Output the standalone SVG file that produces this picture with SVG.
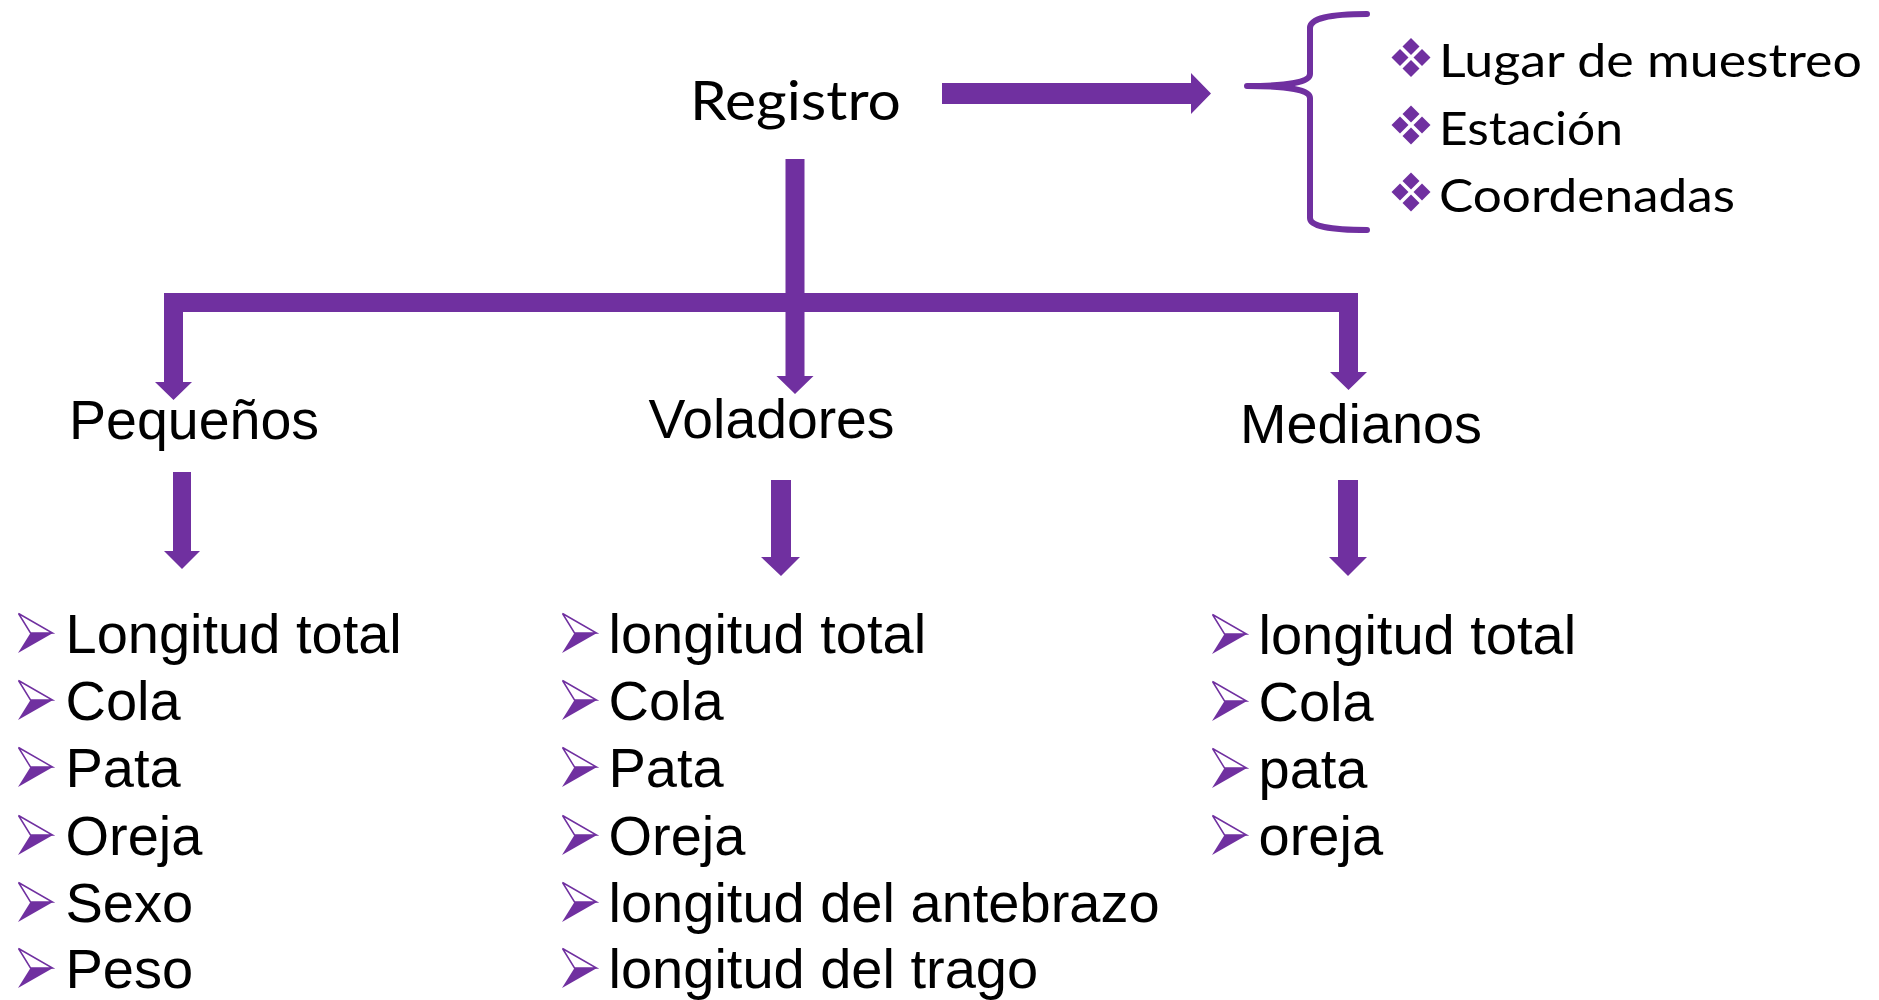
<svg xmlns="http://www.w3.org/2000/svg" xmlns:xlink="http://www.w3.org/1999/xlink" width="1879" height="1000" viewBox="0 0 1879 1000">
<style>
.cal{font-family:Lato,"Open Sans","DejaVu Sans",sans-serif;fill:#000}
.ari{font-family:"Liberation Sans",Arial,sans-serif;fill:#000}
.hd{font-size:56px}
.li{font-size:56px}
.conn{fill:#7030A0}
.brace{fill:none;stroke:#7030A0;stroke-width:6;stroke-linecap:round;stroke-linejoin:round}
</style>
<defs>
<g id="arrowBullet">
<polygon points="0.5,0.5 34.5,20 12.5,20" fill="#ffffff" stroke="#7030A0" stroke-width="1.5" stroke-linejoin="miter"/>
<polygon points="0,40 12.5,20 35,20" fill="#7030A0"/>
</g>
<g id="diaBullet" fill="#7030A0">
<polygon points="0,-19.5 8.5,-11 0,-2.5 -8.5,-11"/>
<polygon points="0,19.5 8.5,11 0,2.5 -8.5,11"/>
<polygon points="-19.5,0 -11,-8.5 -2.5,0 -11,8.5"/>
<polygon points="19.5,0 11,-8.5 2.5,0 11,8.5"/>
</g>
</defs>
<rect width="1879" height="1000" fill="#ffffff"/>

<g id="connectors" class="conn">
<path d="M942,83 H1191 V73 L1211,93.5 L1191,114 V104 H942 Z"/>
<path d="M785.5,159 H804.5 V376 H813.5 L795,394 L776.5,376 H785.5 Z"/>
<path d="M164,293 H1358 V372 H1367 L1348.5,390 L1330,372 H1339 V312 H183 V382 H192 L173.5,400 L155,382 H164 Z"/>
<path d="M173,472 H191 V551 H200 L182,569 L164,551 H173 Z"/>
<path d="M771,480 H791 V557 H800 L781,576 L761,557 H771 Z"/>
<path d="M1338,480 H1358 V557 H1367 L1348,576 L1329,557 H1338 Z"/>
<path class="brace" d="M1367,14 Q1310,14 1310,28 L1310,74 Q1310,86 1247,86 Q1310,86 1310,98 L1310,218 Q1310,230 1367,230"/>
</g>

<g id="node-registro">
<text class="cal" x="690" y="120" font-size="54" textLength="211" lengthAdjust="spacingAndGlyphs">Registro</text>
</g>

<g id="node-info">
<use xlink:href="#diaBullet" x="1411" y="57.5"/>
<use xlink:href="#diaBullet" x="1411" y="125"/>
<use xlink:href="#diaBullet" x="1411" y="192"/>
<text class="cal" x="1439" y="77" font-size="47" textLength="423" lengthAdjust="spacingAndGlyphs">Lugar de muestreo</text>
<text class="cal" x="1439" y="145" font-size="47" textLength="184" lengthAdjust="spacingAndGlyphs">Estación</text>
<text class="cal" x="1439" y="212" font-size="47" textLength="296" lengthAdjust="spacingAndGlyphs">Coordenadas</text>
</g>

<g id="node-pequenos">
<text class="ari hd" x="69" y="439" textLength="250" lengthAdjust="spacingAndGlyphs">Pequeños</text>
</g>
<g id="node-voladores">
<text class="ari hd" x="648.5" y="438" textLength="246" lengthAdjust="spacingAndGlyphs">Voladores</text>
</g>
<g id="node-medianos">
<text class="ari hd" x="1240" y="443" textLength="242" lengthAdjust="spacingAndGlyphs">Medianos</text>
</g>

<g id="list-pequenos">
<use xlink:href="#arrowBullet" x="18" y="613"/>
<use xlink:href="#arrowBullet" x="18" y="680"/>
<use xlink:href="#arrowBullet" x="18" y="747"/>
<use xlink:href="#arrowBullet" x="18" y="815"/>
<use xlink:href="#arrowBullet" x="18" y="882"/>
<use xlink:href="#arrowBullet" x="18" y="948"/>
<text class="ari li" x="65.5" y="653">Longitud total</text>
<text class="ari li" x="65.5" y="720">Cola</text>
<text class="ari li" x="65.5" y="787">Pata</text>
<text class="ari li" x="65.5" y="855">Oreja</text>
<text class="ari li" x="65.5" y="922">Sexo</text>
<text class="ari li" x="65.5" y="988">Peso</text>
</g>

<g id="list-voladores">
<use xlink:href="#arrowBullet" x="562" y="613"/>
<use xlink:href="#arrowBullet" x="562" y="680"/>
<use xlink:href="#arrowBullet" x="562" y="747"/>
<use xlink:href="#arrowBullet" x="562" y="815"/>
<use xlink:href="#arrowBullet" x="562" y="882"/>
<use xlink:href="#arrowBullet" x="562" y="948"/>
<text class="ari li" x="608.5" y="653">longitud total</text>
<text class="ari li" x="608.5" y="720">Cola</text>
<text class="ari li" x="608.5" y="787">Pata</text>
<text class="ari li" x="608.5" y="855">Oreja</text>
<text class="ari li" x="608.5" y="922">longitud del antebrazo</text>
<text class="ari li" x="608.5" y="988">longitud del trago</text>
</g>

<g id="list-medianos">
<use xlink:href="#arrowBullet" x="1212" y="614"/>
<use xlink:href="#arrowBullet" x="1212" y="681"/>
<use xlink:href="#arrowBullet" x="1212" y="748"/>
<use xlink:href="#arrowBullet" x="1212" y="815"/>
<text class="ari li" x="1258.5" y="654">longitud total</text>
<text class="ari li" x="1258.5" y="721">Cola</text>
<text class="ari li" x="1258.5" y="788">pata</text>
<text class="ari li" x="1258.5" y="855">oreja</text>
</g>
</svg>
